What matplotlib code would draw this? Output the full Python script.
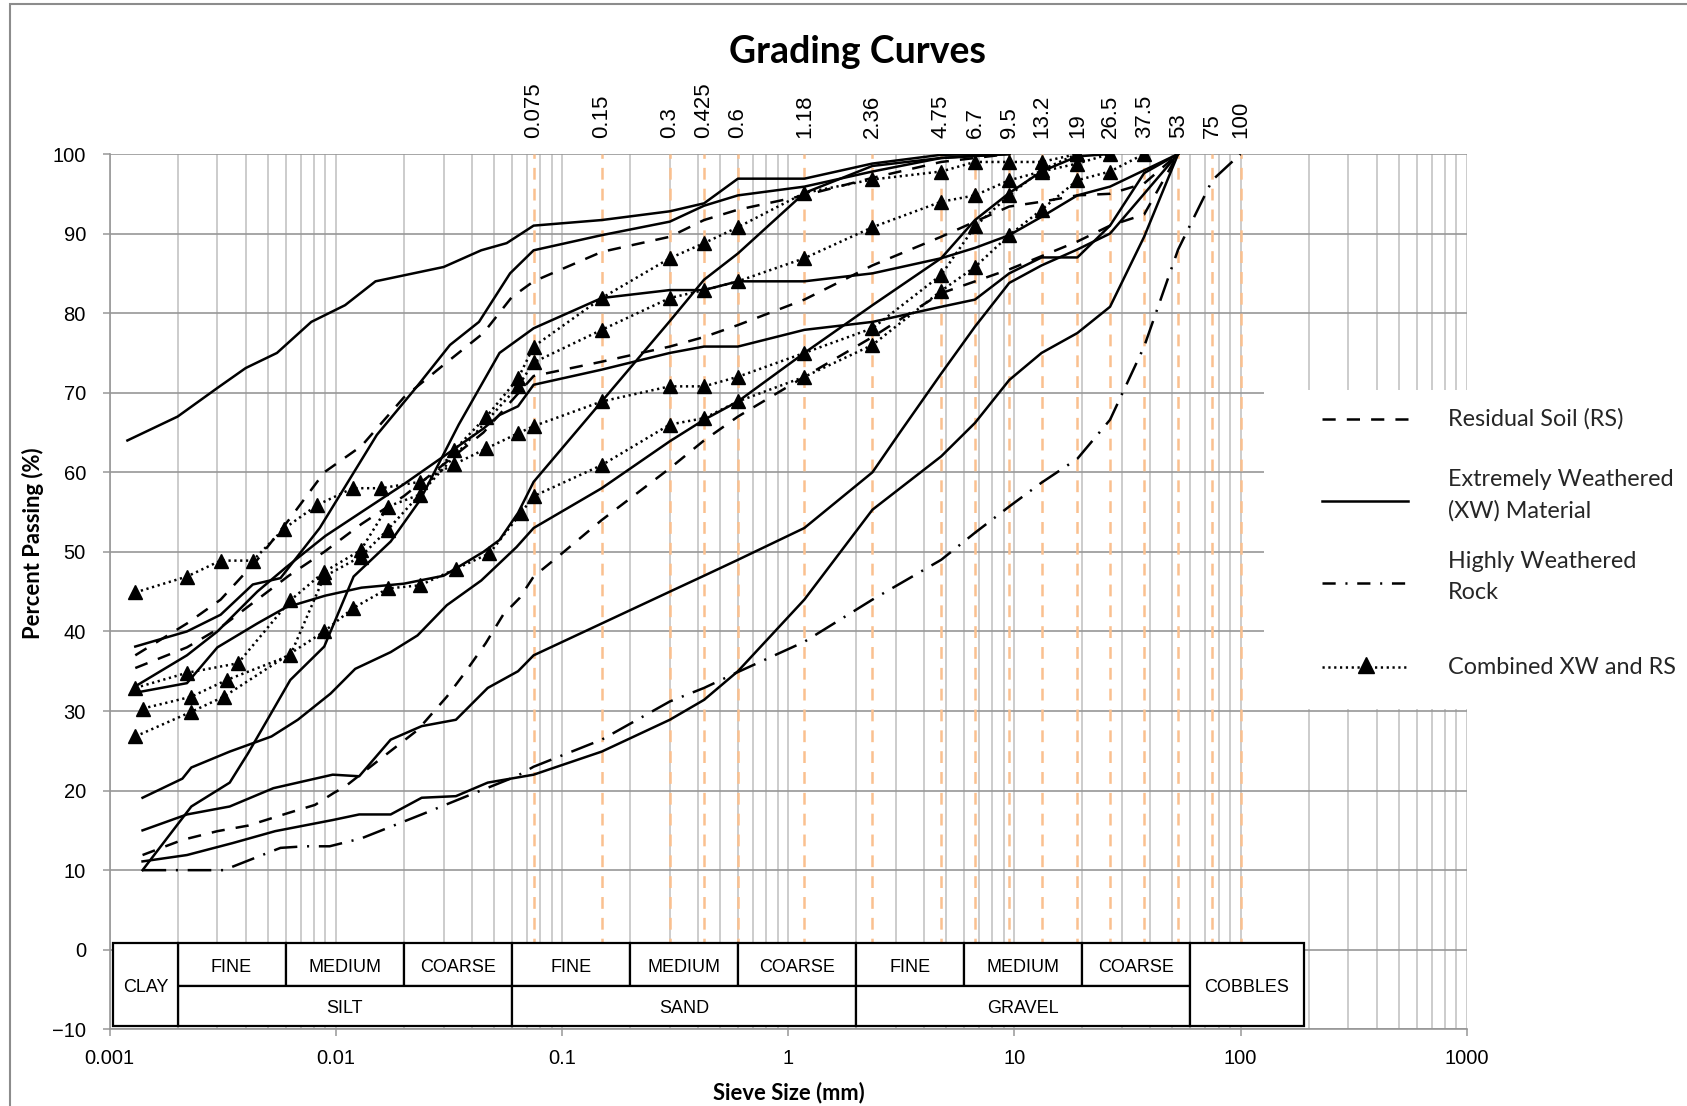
import matplotlib
matplotlib.use('Agg')
import matplotlib.pyplot as plt
from matplotlib.patches import Rectangle
from matplotlib.lines import Line2D

plt.rcParams['lines.scale_dashes'] = False

# sieve sizes marked with orange lines and labelled along the top
sieves = [0.075, 0.15, 0.3, 0.425, 0.6, 1.18, 2.36, 4.75, 6.7, 9.5, 13.2, 19, 26.5, 37.5, 53, 75, 100]
sieve_labels = ['0.075', '0.15', '0.3', '0.425', '0.6', '1.18', '2.36', '4.75', '6.7', '9.5',
                '13.2', '19', '26.5', '37.5', '53', '75', '100']

# Residual Soil (dashed)
rs1_d = [0.0013, 0.0022, 0.0031, 0.0045, 0.0062, 0.0089, 0.013, 0.02, 0.03, 0.045, 0.06, 0.075,
         0.15, 0.3, 0.425, 0.6, 1.18, 2.36, 4.75, 9.5]
rs1_p = [37, 41, 44, 49, 54, 60, 63.3, 69.4, 73.5, 77.5, 82, 84, 87.7, 89.6, 91.7, 93, 94.8, 97, 99, 100]
rs2_d = [0.0013, 0.0022, 0.0031, 0.0045, 0.0062, 0.0089, 0.013, 0.02, 0.03, 0.045, 0.06, 0.075,
         0.15, 0.3, 0.425, 0.6, 1.18, 2.36, 4.75, 6.7, 9.5, 13.2, 19, 26.5, 37.5, 53]
rs2_p = [35.4, 38, 40.5, 44, 47, 50, 53.5, 57, 61, 65, 69, 72.1, 73.9, 75.8, 77, 78.5, 81.7, 86,
         89.6, 91.5, 93.4, 94, 94.8, 95, 96.3, 100]
rs3_d = [0.0014, 0.0021, 0.003, 0.0041, 0.0062, 0.0081, 0.0098, 0.011, 0.015, 0.023, 0.031, 0.037,
         0.046, 0.055, 0.065, 0.075, 0.1, 0.15, 0.3, 0.425, 0.6, 1.18, 2.36, 4.75, 9.5, 19, 26.5, 37.5, 53]
rs3_p = [11.9, 13.8, 14.9, 15.6, 17.2, 18.2, 19.7, 20.5, 23.5, 27.6, 31.8, 34.7, 38.5, 42.1, 44.2,
         46.9, 49.8, 54, 60.5, 64, 67, 72, 77, 82.5, 85.5, 89, 91, 92.4, 100]

# Extremely Weathered (XW) Material (solid)
xw1_d = [0.0012, 0.002, 0.003, 0.004, 0.0055, 0.0078, 0.011, 0.015, 0.03, 0.044, 0.057, 0.075,
         0.15, 0.3, 0.425, 0.6, 1.18, 2.36, 4.75, 9.5]
xw1_p = [64, 67, 70.6, 73.1, 75, 78.9, 81, 84, 85.8, 87.9, 88.8, 91, 91.7, 92.8, 93.8, 96.9, 96.9,
         98.8, 99.9, 100]
xw2_d = [0.0013, 0.0022, 0.0031, 0.0043, 0.0057, 0.0085, 0.0152, 0.0226, 0.032, 0.043, 0.059, 0.075,
         0.15, 0.3, 0.425, 0.6, 1.18, 2.36, 4.75, 9.5]
xw2_p = [38.1, 40, 42.1, 45.9, 46.7, 53, 64.7, 70.6, 76, 78.9, 85, 87.9, 89.8, 91.5, 93.5, 94.8,
         95.9, 97.8, 99.5, 100]
xw3_d = [0.0014, 0.0023, 0.0034, 0.0041, 0.0063, 0.0089, 0.012, 0.0175, 0.0236, 0.035, 0.053, 0.075,
         0.15, 0.3, 0.425, 0.6, 1.18, 2.36, 4.75, 6.7, 9.5, 13.2, 19, 26.5, 53]
xw3_p = [10, 18, 21, 24.7, 33.9, 38.1, 46.9, 51.3, 56.5, 66, 75, 78.1, 81.9, 82.9, 82.9, 84, 84, 85,
         86.9, 88.2, 89.8, 92.1, 94.8, 95.9, 100]
xw4_d = [0.0013, 0.0022, 0.003, 0.0045, 0.006, 0.009, 0.013, 0.02, 0.03, 0.045, 0.053, 0.064, 0.075,
         0.15, 0.3, 0.425, 0.6, 1.18, 2.36, 4.75, 6.7, 9.5, 13.2, 19, 26.5, 37.5, 53]
xw4_p = [33.1, 37, 40, 45, 48, 52, 55, 58.5, 62, 65.5, 67.2, 68.3, 71, 72.9, 75, 75.8, 75.8, 77.9,
         78.9, 80.8, 81.7, 85, 87, 87, 91, 97.6, 100]
xw5_d = [0.0013, 0.0022, 0.003, 0.0045, 0.006, 0.009, 0.013, 0.02, 0.03, 0.045, 0.053, 0.064, 0.075,
         0.15, 0.3, 0.425, 0.6, 1.18, 2.36, 4.75, 9.5]
xw5_p = [32.3, 33.5, 38, 41, 43, 44.5, 45.5, 46, 47, 50, 51.5, 54.9, 58.8, 68.9, 79, 84.2, 87.5,
         95.1, 98.5, 99.5, 100]
xw6_d = [0.0014, 0.0021, 0.0023, 0.0034, 0.0052, 0.0068, 0.0095, 0.0122, 0.0175, 0.023, 0.031, 0.044,
         0.063, 0.075, 0.15, 0.3, 0.425, 0.6, 1.18, 2.36, 4.75, 6.7, 9.5, 13.2, 19, 26.5]
xw6_p = [19.1, 21.5, 22.9, 24.9, 26.8, 28.9, 32.2, 35.3, 37.4, 39.5, 43.3, 46.4, 50.6, 53, 58, 63.9,
         66.6, 68.9, 75, 81, 86.9, 91.7, 95.1, 97.8, 99.7, 100]
xw7_d = [0.0014, 0.0022, 0.0034, 0.0053, 0.0097, 0.0127, 0.0175, 0.024, 0.034, 0.047, 0.064, 0.075,
         0.15, 0.3, 0.425, 0.6, 1.18, 2.36, 3.12, 4.75, 6.7, 9.5, 13.2, 19, 26.5, 37.5, 53]
xw7_p = [15, 17, 18, 20.3, 22, 21.8, 26.4, 28.1, 28.9, 32.9, 35, 37, 41, 45, 47, 49, 53, 60, 65,
         72.4, 78.3, 83.8, 86, 88, 90, 95, 100]
xw8_d = [0.0014, 0.0022, 0.0035, 0.0054, 0.0097, 0.0127, 0.0175, 0.024, 0.034, 0.047, 0.075, 0.15,
         0.3, 0.425, 0.6, 1.18, 2.36, 4.75, 6.7, 9.5, 13.2, 19, 26.5, 37.5, 53]
xw8_p = [11.1, 11.9, 13.4, 14.9, 16.3, 17, 17, 19.1, 19.3, 21, 22, 24.9, 28.9, 31.4, 35, 44, 55.3,
         62, 66.2, 71.6, 75, 77.5, 80.8, 89.6, 100]

# Highly Weathered Rock (dash-dot)
hw_d = [0.0014, 0.0032, 0.0057, 0.0073, 0.0094, 0.013, 0.024, 0.038, 0.063, 0.075, 0.15, 0.3, 0.425,
        0.6, 1.18, 2.36, 4.75, 6.7, 9.5, 13.2, 19, 26.5, 37.5, 53, 75, 100]
hw_p = [10, 10, 12.8, 13, 13, 14, 17, 19.3, 21.8, 23, 26.4, 31.2, 32.9, 34.9, 38.7, 44, 49, 52.4,
        55.7, 58.7, 61.7, 66.6, 75.8, 88, 96.7, 100]

# Combined XW and RS (dotted with triangles)
cb1_d = [0.0013, 0.0022, 0.0031, 0.0043, 0.0059, 0.0083, 0.0119, 0.0159, 0.0236, 0.0334, 0.0464,
         0.064, 0.075, 0.15, 0.3, 0.425, 0.6, 1.18, 2.36, 4.75, 6.7, 9.5, 13.2, 19]
cb1_p = [44.9, 46.9, 48.9, 48.9, 52.9, 55.9, 58, 58, 58.8, 61, 63, 64.9, 65.8, 68.9, 70.8, 70.8, 72,
         75, 78.1, 84.8, 90.9, 94.8, 98, 100]
cb2_d = [0.0013, 0.0022, 0.0037, 0.0063, 0.0089, 0.0129, 0.017, 0.0236, 0.0334, 0.0464, 0.064, 0.075,
         0.15, 0.3, 0.425, 0.6, 1.18, 2.36, 4.75, 6.7, 9.5, 13.2, 19]
cb2_p = [32.9, 34.8, 36, 43.9, 47.5, 50.2, 55.7, 57.2, 62.8, 67, 71.8, 75.8, 81.9, 86.9, 88.8, 90.8,
         95.1, 96.8, 97.8, 99, 99, 99, 100]
cb3_d = [0.0014, 0.0023, 0.0033, 0.0063, 0.0089, 0.0129, 0.017, 0.064, 0.075, 0.15, 0.3, 0.425, 0.6,
         1.18, 2.36, 4.75, 6.7, 9.5, 13.2, 19, 26.5]
cb3_p = [30.3, 31.8, 33.9, 37, 46.9, 49.4, 52.8, 70.8, 73.8, 77.9, 81.9, 82.9, 84, 86.9, 90.8, 94,
         94.8, 96.7, 97.8, 98.8, 100]
cb4_d = [0.0013, 0.0023, 0.0032, 0.0089, 0.0119, 0.017, 0.0236, 0.0342, 0.0478, 0.066, 0.075, 0.15,
         0.3, 0.425, 0.6, 1.18, 2.36, 4.75, 6.7, 9.5, 13.2, 19, 26.5, 37.5]
cb4_p = [26.8, 29.9, 31.8, 40, 42.9, 45.4, 45.8, 47.9, 49.8, 54.9, 57, 60.9, 66, 66.8, 68.9, 72, 76,
         82.8, 85.8, 89.8, 93, 96.7, 97.8, 100]

# soil classification table under the curves
upper_cells = [(0.002, 0.006, 'FINE'), (0.006, 0.02, 'MEDIUM'), (0.02, 0.06, 'COARSE'),
               (0.06, 0.2, 'FINE'), (0.2, 0.6, 'MEDIUM'), (0.6, 2, 'COARSE'),
               (2, 6, 'FINE'), (6, 20, 'MEDIUM'), (20, 60, 'COARSE')]
lower_cells = [(0.002, 0.06, 'SILT'), (0.06, 2, 'SAND'), (2, 60, 'GRAVEL')]
full_cells = [(0.00104, 0.002, 'CLAY'), (60, 190, 'COBBLES')]

W, H = 1687, 1106
fig = plt.figure(figsize=(W / 100, H / 100), dpi=100)
ax = fig.add_axes([109.5 / W, 1 - 1029.3 / H, (1466.7 - 109.5) / W, (1029.3 - 154) / H])
ax.set_xscale('log')
ax.set_xlim(0.001, 1000)
ax.set_ylim(-10, 100)
ax.set_axisbelow(True)

ax.grid(which='both', axis='x', color='#BEBEBE', lw=1.1)
ax.grid(which='major', axis='y', color='#979797', lw=1.2)
ax.set_xticks([0.001, 0.01, 0.1, 1, 10, 100, 1000])
ax.set_xticklabels(['0.001', '0.01', '0.1', '1', '10', '100', '1000'])
ax.set_yticks(range(-10, 101, 10))
ax.tick_params(which='major', length=5, width=1.1, color='#979797', labelsize=14.5)
ax.tick_params(axis='y', pad=12)
ax.tick_params(axis='x', pad=9)
ax.tick_params(which='minor', length=0)
for lab in ax.get_xticklabels() + ax.get_yticklabels():
    lab.set_family('Liberation Sans')
for s in ['top', 'right']:
    ax.spines[s].set_visible(False)
for s in ['left', 'bottom']:
    ax.spines[s].set_color('#979797')
    ax.spines[s].set_linewidth(1.2)

# white area behind the legend
ax.add_patch(Rectangle((127.4, 30.2), 1000 - 127.4, 40.1, facecolor='white', edgecolor='none', zorder=1))

# orange sieve lines + labels on top
for s, lab in zip(sieves, sieve_labels):
    ax.plot([s, s], [0, 100], color='#FAC08F', lw=1.8, dashes=(8.5, 6.5), zorder=2)
    ax.text(s, 1.018, lab, transform=ax.get_xaxis_transform(), rotation=90, ha='center', va='bottom',
            fontsize=16, family='Liberation Sans')

lw = 1.8
rs_style = dict(color='black', lw=lw, dashes=(9.5, 8), zorder=3)
xw_style = dict(color='black', lw=lw, zorder=3)
hw_style = dict(color='black', lw=lw, dashes=(17, 7, 1.5, 7), zorder=3)
cb_style = dict(color='black', lw=lw, dashes=(1.6, 2.6), marker='^', ms=10, zorder=4)

for d, p in [(rs1_d, rs1_p), (rs2_d, rs2_p), (rs3_d, rs3_p)]:
    ax.plot(d, p, **rs_style)
for d, p in [(xw1_d, xw1_p), (xw2_d, xw2_p), (xw3_d, xw3_p), (xw4_d, xw4_p),
             (xw5_d, xw5_p), (xw6_d, xw6_p), (xw7_d, xw7_p), (xw8_d, xw8_p)]:
    ax.plot(d, p, **xw_style)
ax.plot(hw_d, hw_p, **hw_style)
for d, p in [(cb1_d, cb1_p), (cb2_d, cb2_p), (cb3_d, cb3_p), (cb4_d, cb4_p)]:
    ax.plot(d, p, **cb_style)

# classification table (white cells hide the grid behind them)
top, mid, bot = 0.83, -4.6, -9.6
tfont = dict(fontsize=13, family='Liberation Sans', ha='center', va='center', zorder=6)
cell = dict(facecolor='white', ec='black', lw=1.6, zorder=5)
for x0, x1, lab in upper_cells:
    ax.add_patch(Rectangle((x0, mid), x1 - x0, top - mid, **cell))
    ax.text((x0 * x1) ** 0.5, (top + mid) / 2 - 0.3, lab, **tfont)
for x0, x1, lab in lower_cells:
    ax.add_patch(Rectangle((x0, bot), x1 - x0, mid - bot, **cell))
    ax.text((x0 * x1) ** 0.5, (mid + bot) / 2 - 0.3, lab, **tfont)
for x0, x1, lab in full_cells:
    ax.add_patch(Rectangle((x0, bot), x1 - x0, top - bot, **cell))
    ax.text((x0 * x1) ** 0.5, (top + bot) / 2 - 0.3, lab, **tfont)

# titles
fig.text(857.6 / W, 1 - 52 / H, 'Grading Curves', ha='center', va='center', fontsize=27,
         fontweight='bold', family='Lato')
fig.text(33 / W, 1 - 543 / H, 'Percent Passing (%)', rotation=90, ha='center', va='center',
         fontsize=15.8, fontweight='bold', family='Lato')
fig.text(789 / W, 1 - 1093 / H, 'Sieve Size (mm)', ha='center', va='center', fontsize=15.8,
         fontweight='bold', family='Lato')

# legend, drawn by hand to match the spacing
def fx(x):
    return x / W


def fy(y):
    return 1 - y / H


leg = [
    (419, dict(dashes=(9.5, 8)), ['Residual Soil (RS)'], None),
    (501, dict(), ['Extremely Weathered', '(XW) Material'], None),
    (583, dict(dashes=(9.5, 7, 1.5, 7)), ['Highly Weathered', 'Rock'], None),
    (667, dict(dashes=(1.6, 2.6)), ['Combined XW and RS'], '^'),
]
for y, ls, texts, mk in leg:
    fig.add_artist(Line2D([fx(1322), fx(1408)], [fy(y), fy(y)], color='black', lw=lw,
                          transform=fig.transFigure, **ls))
    if mk:
        fig.add_artist(Line2D([fx(1366)], [fy(y - 2)], marker=mk, ms=11, color='black',
                              transform=fig.transFigure))
    n = len(texts)
    for i, t in enumerate(texts):
        ty = y + (i - (n - 1) / 2) * 31 - (6 if n > 1 else 0)
        fig.text(fx(1448), fy(ty), t, ha='left', va='center', fontsize=16.8, family='Lato',
                 color='#262626')

# chart border
fig.add_artist(Rectangle((10 / W, -1), 3, 1 - 4 / H + 1, transform=fig.transFigure, fill=False,
                         ec='#8C8C8C', lw=1.5))

fig.savefig('out.png', dpi=100)
